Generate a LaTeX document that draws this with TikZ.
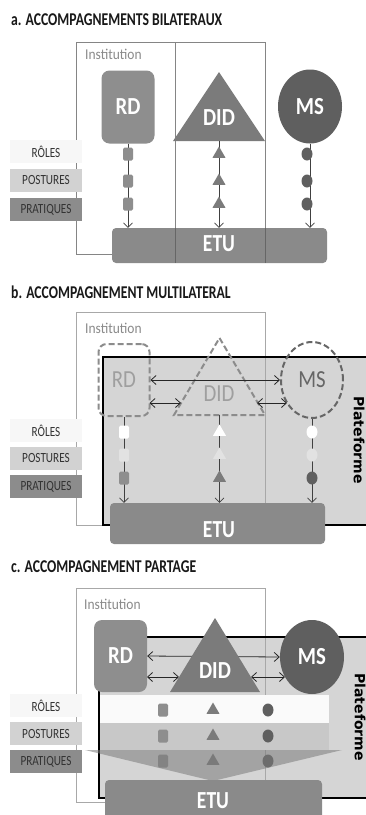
\documentclass[tikz,border=0pt]{standalone}
\usepackage{fontspec}
\setmainfont{Carlito}[FakeStretch=0.85]
\newfontfamily\titlefont{Carlito}[FakeStretch=0.76]
\newfontfamily\instfont{Carlito}[FakeStretch=0.9]
\newfontfamily\labfont{Carlito}[FakeStretch=0.8]
\newfontfamily\bigfont{Carlito}[FakeStretch=0.85]
\newfontfamily\etufont{Carlito}[FakeStretch=0.8]
\newfontfamily\platfont{DejaVu Sans}
\usetikzlibrary{shapes.geometric,arrows.meta}
\definecolor{cRD}{HTML}{8E8E8E}
\definecolor{cDID}{HTML}{7B7B7B}
\definecolor{cMS}{HTML}{5F5F5F}
\definecolor{cETU}{HTML}{8A8A8A}
\definecolor{cPlat}{HTML}{D5D5D5}
\definecolor{cInstA}{HTML}{858585}
\definecolor{cInstB}{HTML}{A8A8A8}
\definecolor{cInstT}{HTML}{8A8A8A}
\definecolor{cRole}{HTML}{F7F7F7}
\definecolor{cPost}{HTML}{D2D2D2}
\definecolor{cPrat}{HTML}{8C8C8C}
\definecolor{cLight}{HTML}{E2E2E2}
\definecolor{cBandA}{HTML}{FAFAFA}
\definecolor{cBandB}{HTML}{C8C8C8}
\definecolor{cFun}{HTML}{7A7A7A}
\definecolor{cDashG}{HTML}{8C8C8C}
\definecolor{cDashD}{HTML}{666666}
\begin{document}
\begin{tikzpicture}[x=1pt,y=-1pt,
  title/.style={anchor=west, inner sep=0, font=\titlefont\fontsize{18}{20}\selectfont\bfseries, text=black!90},
  insttxt/.style={anchor=west, inner sep=0, font=\instfont\fontsize{15}{17}\selectfont, text=cInstT},
  lab/.style={minimum width=72, minimum height=23, inner sep=0, font=\labfont\fontsize{14}{15}\selectfont, text=black!80},
  big/.style={font=\bigfont\fontsize{24.5}{26}\selectfont\bfseries},
  bigreg/.style={font=\bigfont\fontsize{24.5}{26}\selectfont},
  rdbox/.style={rectangle, rounded corners=8, minimum width=53, minimum height=73, inner sep=0, fill=cRD, text=white, big},
  msnode/.style={ellipse, minimum width=64, minimum height=74, inner sep=0, fill=cMS, text=white, big},
  conn/.style={draw=black!75, line width=0.7, -{Straight Barb[length=4.5pt,width=9pt]}},
  harrow/.style={draw=black!85, line width=0.8, {Straight Barb[length=5pt,width=9pt]}-{Straight Barb[length=5pt,width=9pt]}},
  sq/.style={rectangle, rounded corners=1.5, minimum width=10, minimum height=13, inner sep=0},
  tri/.style={regular polygon, regular polygon sides=3, minimum size=15, inner sep=0},
  dot/.style={ellipse, minimum width=11, minimum height=13, inner sep=0},
  etu/.style={rectangle, rounded corners=4, fill=cETU, inner sep=0},
  etutxt/.style={inner sep=0, text=white, font=\etufont\fontsize{24.5}{26}\selectfont\bfseries},
  dsh/.style={line width=2, dash pattern=on 6pt off 3pt},
  instA/.style={draw=cInstA, line width=0.8},
  instB/.style={draw=cInstB, line width=0.8},
  platborder/.style={draw=black, line width=2},
  plat/.style={font=\platfont\bfseries\fontsize{14}{15}\selectfont, rotate=-90, inner sep=0}
]
\useasboundingbox (0,0) rectangle (366,815);
\fill[white] (0,0) rectangle (366,815);
\clip (0,0) rectangle (366,815);

% ================= a =================
\node[title] (tA) at (11,20) {a. ACCOMPAGNEMENTS BILATERAUX};
\draw[instA] (112,254) -- (76,254) -- (76,42) -- (265,42) -- (265,228);
\draw[instA] (175,42) -- (175,228);
\node[insttxt] (iA) at (85,54) {Institution};
\node[lab, fill=cRole] (roA) at (46,151.5) {RÔLES};
\node[lab, fill=cPost] (poA) at (46,180) {POSTURES};
\node[lab, fill=cPrat] (prA) at (46,209.5) {PRATIQUES};
\node[rdbox] (rdA) at (128,107) {RD};
\fill[cDID] (219,72) -- (265,141) -- (173,141) -- cycle;
\coordinate (didAb) at (219,141);
\node[big, text=white, inner sep=0] (didAt) at (219,118) {DID};
\node[msnode] (msA) at (310,106.5) {MS};
\node[etu, minimum width=215, minimum height=35] (etuA) at (219.5,245.5) {};
\node[etutxt] (etuAt) at (219,244) {ETU};
\draw[conn] (rdA.south) -- (rdA.south |- etuA.north);
\draw[conn] (didAb) -- (didAb |- etuA.north);
\draw[conn] (msA.south) -- (msA.south |- etuA.north);
\foreach \y/\n in {154/1,181/2,204/3}{
  \node[sq, fill=cRD] (sqA\n) at (128,\y) {};
  \node[tri, fill=cDID] (trA\n) at (219,\y) {};
  \node[dot, fill=cMS] (doA\n) at (307,\y) {};
}
\draw[draw=black!60, line width=0.8] (175,228) -- (175,263);
\draw[draw=black!60, line width=0.8] (265,228) -- (265,263);

% ================= b =================
\node[title] (tB) at (11,292) {b. ACCOMPAGNEMENT MULTILATERAL};
\fill[cPlat] (103,357) rectangle (375,525);
\draw[instB] (76,312) rectangle (265,525);
\draw[platborder] (375,357) -- (103,357) -- (103,525) -- (375,525);
\node[insttxt] (iB) at (85,328) {Institution};
\node[lab, fill=cRole] (roB) at (46,430.5) {RÔLES};
\node[lab, fill=cPost] (poB) at (46,458.5) {POSTURES};
\node[lab, fill=cPrat] (prB) at (46,486.5) {PRATIQUES};
\node[plat] (plB) at (359,440) {Plateforme};
\node[rectangle, rounded corners=8, minimum width=51, minimum height=72, inner sep=0, draw=cDashG, dsh, text=cRD!85, bigreg] (rdB) at (124,380) {RD};
\draw[dsh, draw=cDashG] (219.5,338) -- (265,415) -- (174,415) -- cycle;
\coordinate (didBb) at (219.5,415);
\node[bigreg, text=cRD!85, inner sep=0] (didBt) at (219,394) {DID};
\node[ellipse, minimum width=62, minimum height=76, inner sep=0, draw=cDashD, dsh, text=cDashD, bigreg] (msB) at (312,380) {MS};
\coordinate (rdBe2) at (149.5,403);
\coordinate (didBw) at (181,403);
\coordinate (didBe) at (257,403);
\coordinate (msBw2) at (287,403);
\draw[harrow] (rdB.east) -- (msB.west);
\draw[harrow] (rdBe2) -- (didBw);
\draw[harrow] (didBe) -- (msBw2);
\node[etu, minimum width=215, minimum height=41] (etuB) at (217.5,523.5) {};
\node[etutxt] (etuBt) at (219,530) {ETU};
\draw[conn] (rdB.south) -- (rdB.south |- etuB.north);
\draw[conn] (didBb) -- (didBb |- etuB.north);
\draw[conn] (msB.south) -- (msB.south |- etuB.north);
\foreach \y/\n/\c/\d/\e in {432/1/white/white/white,455/2/cLight/cLight/cLight,478/3/cRD/cDID/cMS}{
  \node[sq, fill=\c] (sqB\n) at (124,\y) {};
  \node[tri, fill=\d] (trB\n) at (219.5,\y) {};
  \node[dot, fill=\e] (doB\n) at (312,\y) {};
}

% ================= c =================
\node[title] (tC) at (11,567) {c. ACCOMPAGNEMENT PARTAGE};
\fill[cPlat] (99,637) rectangle (375,798);
\draw[instB] (76,588) rectangle (265,802);
\draw[platborder] (375,637) -- (99,637) -- (99,798) -- (375,798);
\node[insttxt] (iC) at (84,604) {Institution};
\node[lab, fill=cRole] (roC) at (46,705.5) {RÔLES};
\node[lab, fill=cPost] (poC) at (46,733.5) {POSTURES};
\node[lab, fill=cPrat] (prC) at (46,761.5) {PRATIQUES};
\node[plat] (plC) at (360,717) {Plateforme};
\fill[cBandA] (100,695) rectangle (329,723);
\fill[cBandB] (100,723) rectangle (329,750);
\foreach \y/\n in {710/1,736/2,761/3}{
  \node[sq, fill=cRD] (sqC\n) at (163,\y) {};
  \node[tri, fill=cDID] (trC\n) at (213,\y) {};
  \node[dot, fill=cMS] (doC\n) at (268,\y) {};
}
\fill[cFun, opacity=0.55] (85,750) -- (342,750) -- (213,781) -- cycle;
\node[rdbox, minimum height=72] (rdC) at (120.5,656) {RD};
\node[msnode] (msC) at (312,657) {MS};
\coordinate (rdCe2) at (147,677);
\coordinate (didCw) at (179,677);
\coordinate (didCe) at (251,677);
\coordinate (msCw2) at (285,677);
\draw[harrow] (rdC.east) -- (msC.west);
\draw[harrow] (rdCe2) -- (didCw);
\draw[harrow] (didCe) -- (msCw2);
\fill[cDID] (215,618) -- (260,692) -- (170,692) -- cycle;
\node[big, text=white, inner sep=0] (didCt) at (215,671) {DID};
\node[etu, minimum width=217, minimum height=40] (etuC) at (213.5,800) {};
\node[etutxt] (etuCt) at (213,801) {ETU};
\end{tikzpicture}
\end{document}
